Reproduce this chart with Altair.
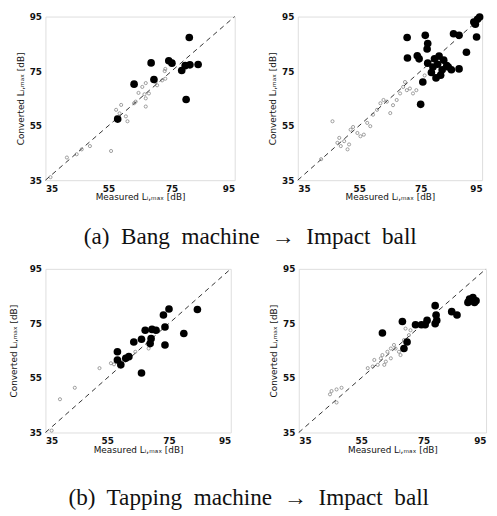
import altair as alt
import pandas as pd

# ---------------- data ----------------
# Panel 1: Bang machine -> Impact ball (left)
p1_big_x = [80.6, 68.5, 74.1, 75.1, 78.2, 79.3, 80.8, 83.4, 63.1, 79.6, 69.4, 57.9]
p1_big_y = [87.3, 78.0, 78.8, 77.9, 75.2, 77.0, 77.3, 77.4, 70.2, 64.6, 71.9, 57.4]
p1_small_x = [36.6, 41.8, 44.9, 46.5, 49.1, 55.8, 57.4, 59.0, 57.4, 61.0, 60.5, 63.1, 65.7, 66.8,
              67.8, 66.8, 69.9, 72.0, 73.0, 73.0, 72.8, 66.8, 66.4, 63.6, 70.4, 64.5, 58.5]
p1_small_y = [36.1, 43.3, 44.5, 46.3, 47.5, 45.7, 60.8, 62.6, 58.0, 56.6, 58.4, 63.2, 69.2, 65.0,
              66.8, 62.0, 71.0, 71.6, 72.2, 75.8, 75.0, 70.6, 66.5, 63.8, 69.8, 67.0, 59.5]

# Panel 2: Bang machine -> Impact ball (right)
p2_big_x = [70.6, 76.5, 77.3, 77.1, 85.7, 87.5, 93.2, 92.3, 93.5, 94.2, 92.8, 89.9, 70.7, 73.9,
            74.5, 77.3, 79.5, 81.0, 82.5, 83.5, 80.5, 82.0, 79.0, 78.5, 81.5, 80.0, 84.0, 85.0,
            87.5, 75.7, 75.0]
p2_big_y = [87.3, 88.1, 85.1, 83.1, 88.7, 88.1, 87.5, 93.0, 94.0, 94.8, 92.2, 81.9, 79.8, 80.6,
            79.5, 77.9, 79.5, 80.5, 79.0, 77.0, 77.5, 75.5, 76.5, 74.5, 73.5, 72.5, 76.5, 75.5,
            75.8, 71.0, 62.8]
p2_small_x = [46.3, 47.9, 49.0, 50.1, 51.2, 51.7, 54.4, 55.4, 56.5, 57.6, 58.6, 60.8, 61.9, 62.9,
              64.0, 65.1, 67.2, 68.3, 69.3, 69.9, 71.5, 72.5, 73.6, 75.7, 76.3, 52.2, 42.6, 59.5,
              66.0, 70.5, 53.0, 48.5]
p2_small_y = [56.6, 48.7, 47.5, 49.3, 46.3, 48.1, 52.3, 51.1, 51.7, 56.0, 54.8, 60.8, 63.2, 64.4,
              63.8, 59.6, 64.4, 66.8, 69.2, 71.0, 68.6, 66.8, 68.0, 71.0, 73.4, 53.5, 42.7, 59.0,
              62.5, 68.0, 54.5, 50.5]

# Panel 3: Tapping machine -> Impact ball (left)
p3_big_x = [75.0, 73.2, 84.2, 73.7, 79.8, 73.7, 63.6, 66.1, 69.2, 70.8, 68.9, 66.1, 58.3, 59.4,
            58.3, 67.3, 69.5, 61.0, 62.0]
p3_big_y = [80.3, 78.1, 80.1, 73.7, 71.3, 67.1, 68.2, 69.2, 69.4, 72.5, 67.6, 56.8, 61.6, 59.8,
            64.6, 72.5, 72.8, 62.2, 62.8]
p3_small_x = [44.5, 39.7, 52.5, 56.2, 37.0, 57.2, 64.1, 68.4, 60.0]
p3_small_y = [51.4, 47.2, 58.6, 60.4, 35.7, 60.0, 64.6, 65.8, 61.0]

# Panel 4: Tapping machine -> Impact ball (right)
p4_big_x = [61.8, 78.7, 68.2, 76.1, 75.5, 78.7, 79.2, 79.0, 72.4, 74.3, 84.0, 85.7, 89.7, 90.8,
            91.3, 89.2, 91.8, 68.7, 69.7]
p4_big_y = [71.5, 81.5, 75.7, 76.1, 74.5, 74.9, 76.1, 78.1, 74.5, 74.5, 79.3, 78.1, 83.9, 84.5,
            82.7, 82.7, 83.3, 65.8, 68.2]
p4_small_x = [45.5, 47.1, 48.7, 45.0, 47.1, 57.1, 58.7, 60.3, 59.2, 61.3, 63.4, 64.5, 62.4, 62.9,
              61.8, 65.5, 67.1, 67.6, 68.7, 70.3, 70.8, 69.2, 66.0, 64.5]
p4_small_y = [50.2, 50.8, 51.4, 49.0, 46.0, 58.6, 59.2, 59.8, 61.6, 62.2, 64.6, 65.8, 59.8, 61.0,
              63.4, 67.1, 64.6, 63.4, 68.9, 70.7, 72.5, 73.1, 65.8, 62.2]

line_vals = [35, 95]
tick_vals = [35, 55, 75, 95]

caption_a = "(a)\u00a0 Bang\u00a0 machine\u00a0 \u2192\u00a0 Impact\u00a0 ball"
caption_b = "(b)\u00a0 Tapping\u00a0 machine\u00a0 \u2192\u00a0 Impact\u00a0 ball"
x_title = "Measured L\u1d62,\u2098\u2090\u2093 [dB]"
y_title = "Converted L\u1d62,\u2098\u2090\u2093 [dB]"


def panel(bx, by, sx, sy, w, h, ytitle_pad=4):
    sc = alt.Scale(domain=[35, 95], nice=False, zero=False)
    xax = alt.Axis(values=tick_vals, title=x_title, grid=False, domain=False, ticks=False,
                   labelPadding=4, titlePadding=0, labelFont="DejaVu Sans", labelFontWeight="bold",
                   labelFontSize=9, titleFont="DejaVu Sans", titleFontSize=9,
                   titleFontWeight="normal", labelColor="#111", titleColor="#111")
    yax = alt.Axis(values=tick_vals, title=y_title, grid=False, domain=False, ticks=False,
                   labelPadding=4, titlePadding=ytitle_pad, labelFont="DejaVu Sans",
                   labelFontWeight="bold", labelFontSize=9, titleFont="DejaVu Sans",
                   titleFontSize=9, titleFontWeight="normal", labelColor="#111",
                   titleColor="#111")
    line_df = pd.DataFrame({"x": line_vals, "y": line_vals})
    big_df = pd.DataFrame({"x": bx, "y": by})
    small_df = pd.DataFrame({"x": sx, "y": sy})
    diag = alt.Chart(line_df).mark_line(color="#333", strokeDash=[5, 4], strokeWidth=1).encode(
        x=alt.X("x:Q", scale=sc, axis=xax), y=alt.Y("y:Q", scale=sc, axis=yax))
    small = alt.Chart(small_df).mark_point(filled=False, size=10, color="#555",
                                           strokeWidth=0.8).encode(
        x=alt.X("x:Q", scale=sc), y=alt.Y("y:Q", scale=sc))
    big = alt.Chart(big_df).mark_circle(size=60, color="#000", opacity=1).encode(
        x=alt.X("x:Q", scale=sc), y=alt.Y("y:Q", scale=sc))
    return alt.layer(diag, small, big).properties(width=w, height=h)


def title_style(offset):
    return dict(orient="bottom", font="Liberation Serif", fontSize=23.5, fontWeight="normal",
                color="#111", anchor="middle", offset=offset)

row1 = alt.hconcat(
    panel(p1_big_x, p1_big_y, p1_small_x, p1_small_y, 192, 166),
    panel(p2_big_x, p2_big_y, p2_small_x, p2_small_y, 187, 166),
    spacing=30,
).properties(title=alt.TitleParams(caption_a, **title_style(23)))

row2 = alt.hconcat(
    panel(p3_big_x, p3_big_y, p3_small_x, p3_small_y, 188, 166, ytitle_pad=11),
    panel(p4_big_x, p4_big_y, p4_small_x, p4_small_y, 190, 166),
    spacing=35,
).properties(title=alt.TitleParams(caption_b, **title_style(32)))

chart = alt.vconcat(row1, row2, spacing=16).properties(padding=0).configure_view(
    stroke="#999", strokeDash=[1, 2], strokeWidth=1
).configure(background="white")

chart.save("out.html", embed_options={"renderer": "svg", "actions": False})
